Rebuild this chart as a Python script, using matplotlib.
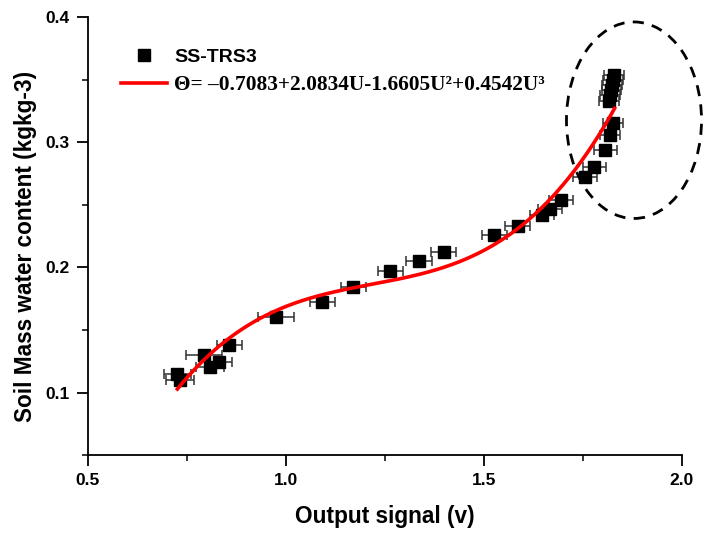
import matplotlib
matplotlib.use("Agg")
import matplotlib.pyplot as plt
import numpy as np
from matplotlib.lines import Line2D
from matplotlib.patches import Ellipse
from matplotlib.ticker import MultipleLocator

# Data
signal = [0.726, 0.732, 0.794, 0.808, 0.830, 0.857, 0.975, 1.092, 1.170, 1.264,
          1.336, 1.398, 1.526, 1.585, 1.647, 1.666, 1.695, 1.755, 1.779, 1.807,
          1.818, 1.827, 1.815, 1.819, 1.822, 1.824, 1.826, 1.828]
water = [0.1149, 0.1101, 0.1302, 0.1208, 0.1245, 0.1382, 0.1603, 0.1723, 0.1843, 0.1968,
         0.2054, 0.2123, 0.2259, 0.2333, 0.2416, 0.2464, 0.2536, 0.2722, 0.2800, 0.2936,
         0.3056, 0.3154, 0.3328, 0.3376, 0.3416, 0.3456, 0.3496, 0.3536]
signal_err = [0.035, 0.035, 0.045, 0.035, 0.035, 0.032, 0.045, 0.032, 0.032, 0.032,
              0.032, 0.032, 0.032, 0.032, 0.030, 0.030, 0.030, 0.030, 0.030, 0.030,
              0.025, 0.025, 0.025, 0.025, 0.025, 0.025, 0.025, 0.025]
fit_coeffs = [-0.7083, 2.0834, -1.6605, 0.4542]
fit_range = [0.726, 1.83]
series_label = "SS-TRS3"
fit_label = "\u0398= \u20130.7083+2.0834U-1.6605U\u00b2+0.4542U\u00b3"
x_ticks = [0.5, 1.0, 1.5, 2.0]
x_ticklabels = ['0.5', '1.0', '1.5', '2.0']
y_ticks = [0.1, 0.2, 0.3, 0.4]
y_ticklabels = ['0.1', '0.2', '0.3', '0.4']

fig = plt.figure(figsize=(7.03, 5.33), dpi=100)
ax = fig.add_axes([0.125, 0.146, 0.845, 0.822])

ax.errorbar(signal, water, xerr=signal_err, fmt='none', ecolor='#303030',
            elinewidth=1.1, capsize=3.5, capthick=1.1, zorder=2)
ax.plot(signal, water, 's', color='black', markersize=8.5, zorder=3)

u = np.linspace(fit_range[0], fit_range[1], 300)
theta = np.polyval(fit_coeffs[::-1], u)
ax.plot(u, theta, color='#ff0000', lw=2.6, zorder=4)

ell = Ellipse((1.879, 0.3176), 0.341, 0.157, fill=False, ls=(0, (4, 3)),
              lw=2.0, color='black', clip_on=False, zorder=5)
ax.add_patch(ell)

ax.set_xlim(0.5, 2.0)
ax.set_ylim(0.05, 0.4)
ax.xaxis.set_minor_locator(MultipleLocator(0.25))
ax.yaxis.set_minor_locator(MultipleLocator(0.05))
ax.set_xticks(x_ticks)
ax.set_xticklabels(x_ticklabels)
ax.set_yticks(y_ticks)
ax.set_yticklabels(y_ticklabels)
for s in ['top', 'right']:
    ax.spines[s].set_visible(False)
for s in ['left', 'bottom']:
    ax.spines[s].set_linewidth(1.3)
ax.tick_params(which='major', direction='out', length=8, width=1.3,
               labelsize=12.5, pad=5)
ax.tick_params(which='minor', direction='out', length=4, width=1.1)
for lab in ax.get_xticklabels() + ax.get_yticklabels():
    lab.set_fontfamily('Liberation Sans')
    lab.set_fontweight('bold')

ax.set_xlabel('Output signal (v)', fontsize=16.3, fontweight='bold',
              family='Liberation Sans', labelpad=12)
ax.set_ylabel('Soil Mass water content (kgkg-3)', fontsize=16.3, fontweight='bold',
              family='Liberation Sans')
ax.yaxis.set_label_coords(-0.086, 0.477)

handles = [Line2D([], [], ls='none', marker='s', color='black', markersize=8),
           Line2D([], [], color='#ff0000', lw=2.6)]
leg = ax.legend(handles, [series_label, fit_label], loc='upper left',
                bbox_to_anchor=(0.0556, 0.931), frameon=False, handlelength=2.15,
                handletextpad=0.33, labelspacing=0.43, borderaxespad=0, borderpad=0,
                prop={'family': 'Liberation Serif', 'weight': 'bold', 'size': 15.4})
t0, t1 = leg.get_texts()
t0.set_fontfamily('Liberation Sans'); t0.set_fontweight('bold'); t0.set_fontsize(14)

fig.savefig('out.png', dpi=100)
